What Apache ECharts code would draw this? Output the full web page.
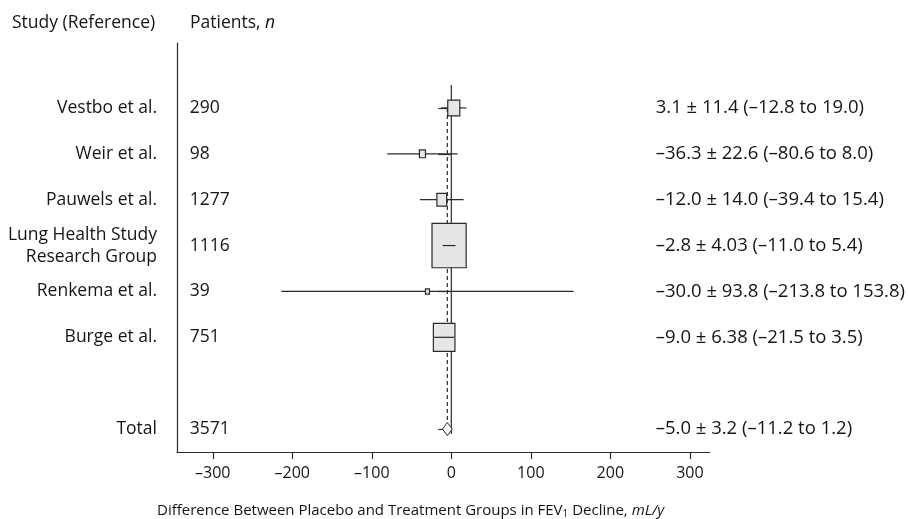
<!DOCTYPE html>
<html><head><meta charset="utf-8">
<script src="https://cdn.jsdelivr.net/npm/echarts@6/dist/echarts.min.js"></script>
<style>html,body{margin:0;padding:0;background:#fff}#c{width:908px;height:519px}</style>
</head><body><div id="c"></div>
<script>
const studies = ['Vestbo et al.', 'Weir et al.', 'Pauwels et al.', 'Lung Health Study\nResearch Group', 'Renkema et al.', 'Burge et al.'];
const patients = [290, 98, 1277, 1116, 39, 751];
const means = [3.1, -36.3, -12.0, -2.8, -30.0, -9.0];
const ses = [11.4, 22.6, 14.0, 4.03, 93.8, 6.38];
const seDecimals = [1, 1, 1, 2, 1, 2];
const ciLow = [-12.8, -80.6, -39.4, -11.0, -213.8, -21.5];
const ciHigh = [19.0, 8.0, 15.4, 5.4, 153.8, 3.5];
const totalLabel = 'Total';
const totalPatients = 3571;
const totalMean = -5.0;
const totalSe = 3.2;
const totalSeDecimals = 1;
const totalLow = -11.2;
const totalHigh = 1.2;
const xTicks = [-300, -200, -100, 0, 100, 200, 300];

const FONT = '"Open Sans", "Noto Sans", sans-serif';
const TXT = '#151515';
const LINE = '#2a2a2a';

function fmt(v) { return (v < 0 ? '\u2013' : '') + Math.abs(v).toFixed(1); }
function summary(m, se, d, lo, hi) { return fmt(m) + ' \u00b1 ' + se.toFixed(d) + ' (' + fmt(lo) + ' to ' + fmt(hi) + ')'; }

const categories = studies.concat(['', totalLabel]);
const nLabels = patients.map(String).concat(['', String(totalPatients)]);
const sumLabels = studies.map((s, i) => summary(means[i], ses[i], seDecimals[i], ciLow[i], ciHigh[i]))
  .concat(['', summary(totalMean, totalSe, totalSeDecimals, totalLow, totalHigh)]);
const totalRow = categories.length - 1;

const markData = studies.map((s, i) => [means[i], i, ciLow[i], ciHigh[i], ses[i], 0])
  .concat([[totalMean, totalRow, totalLow, totalHigh, totalSe, 1]]);

const chart = echarts.init(document.getElementById('c'), null, {renderer: 'canvas'});
const baseText = {fontFamily: FONT, fontSize: 17.5, color: TXT};
const capText = {fontFamily: FONT, fontSize: 15, color: TXT};

chart.setOption({
  animation: false,
  backgroundColor: '#fff',
  textStyle: {fontFamily: FONT},
  title: [
    {text: 'Study (Reference)', left: 12, top: 14, padding: 0, textStyle: Object.assign({fontWeight: 'normal'}, baseText)},
    {text: 'Patients, {i|n}', left: 190, top: 14, padding: 0,
      textStyle: Object.assign({fontWeight: 'normal', rich: {i: Object.assign({fontStyle: 'italic'}, baseText)}}, baseText)},
    {text: 'Difference Between Placebo and Treatment Groups in FEV{sub|1} Decline, {i|mL/y}', left: 157, top: 502, padding: 0,
      textStyle: Object.assign({fontWeight: 'normal', rich: {
        sub: {fontFamily: FONT, fontSize: 10, color: TXT, padding: [7, 0, 0, 0]},
        i: Object.assign({fontStyle: 'italic'}, capText)
      }}, capText)}
  ],
  grid: [
    {left: 177, right: 196, top: 85, bottom: 67, containLabel: false},
    {left: 177, right: 196, top: 43, bottom: 67, containLabel: false}
  ],
  xAxis: [
    {gridIndex: 0, type: 'value', min: -345, max: 325,
      axisLine: {show: true, onZero: false, lineStyle: {color: LINE, width: 1.2}},
      axisTick: {show: true, customValues: xTicks, length: 7, lineStyle: {color: LINE, width: 1.2}},
      axisLabel: {customValues: xTicks, margin: 13, fontSize: 16, color: TXT, fontFamily: FONT, formatter: v => (v < 0 ? '\u2013' + Math.abs(v) : String(v))},
      splitLine: {show: false}},
    {gridIndex: 1, type: 'value', show: false, min: 0, max: 1}
  ],
  yAxis: [
    {gridIndex: 0, type: 'category', data: categories, inverse: true, position: 'left',
      axisLine: {show: false},
      axisTick: {show: true, alignWithLabel: true, length: 13, interval: (i, v) => v !== '', lineStyle: {color: LINE, width: 1.2}},
      axisLabel: {margin: 20, fontSize: 17.5, color: TXT, fontFamily: FONT, lineHeight: 22, align: 'right', interval: 0},
      splitLine: {show: false}},
    {gridIndex: 0, type: 'category', data: nLabels, inverse: true, position: 'right', offset: -520,
      axisLine: {show: false}, axisTick: {show: false},
      axisLabel: {margin: 0, fontSize: 17.5, color: TXT, fontFamily: FONT, align: 'left', interval: 0},
      splitLine: {show: false}},
    {gridIndex: 0, type: 'category', data: sumLabels, inverse: true, position: 'right', offset: -54,
      axisLine: {show: false}, axisTick: {show: false},
      axisLabel: {margin: 0, fontSize: 18.5, color: TXT, fontFamily: FONT, align: 'left', interval: 0},
      splitLine: {show: false}},
    {gridIndex: 1, type: 'value', min: 0, max: 1, position: 'left',
      axisLine: {show: true, lineStyle: {color: LINE, width: 1.2}},
      axisTick: {show: false}, axisLabel: {show: false}, splitLine: {show: false}}
  ],
  series: [
    {type: 'custom', name: 'reference', xAxisIndex: 0, yAxisIndex: 0, z: 1, silent: true,
      data: [[totalMean, totalRow]],
      encode: {x: 0, y: 1},
      renderItem: function (params, api) {
        const band = api.size([0, 1])[1];
        const firstY = api.coord([0, 0])[1];
        const top = firstY - band / 2;
        const zeroX = api.coord([0, 0])[0];
        const ty = api.coord([0, api.value(1)])[1];
        const dx = api.coord([api.value(0), 0])[0];
        return {type: 'group', children: [
          {type: 'line', shape: {x1: zeroX, y1: top, x2: zeroX, y2: ty + 5}, style: {stroke: LINE, lineWidth: 1.2}},
          {type: 'line', shape: {x1: dx, y1: firstY, x2: dx, y2: ty}, style: {stroke: LINE, lineWidth: 1.2, lineDash: [4, 3]}}
        ]};
      }},
    {type: 'custom', name: 'studies', xAxisIndex: 0, yAxisIndex: 0, z: 3, silent: true,
      data: markData,
      encode: {x: [0, 2, 3], y: 1},
      renderItem: function (params, api) {
        const m = api.value(0), r = api.value(1), lo = api.value(2), hi = api.value(3), se = api.value(4), tot = api.value(5);
        const band = api.size([0, 1])[1];
        const p = api.coord([m, r]);
        const xm = p[0], y = p[1];
        const xl = api.coord([lo, r])[0];
        const xh = api.coord([hi, r])[0];
        if (tot) {
          const h = 13;
          return {type: 'polygon', shape: {points: [[xl, y], [xm, y - h / 2], [xh, y], [xm, y + h / 2]]},
            style: {fill: '#fff', stroke: LINE, lineWidth: 1}};
        }
        const w = Math.max(4, 3 * band / se);
        const h = Math.max(5, w * 1.3);
        const line = {type: 'line', shape: {x1: xl, y1: y, x2: xh, y2: y}, style: {stroke: LINE, lineWidth: 1.2}};
        const rect = {type: 'rect', shape: {x: xm - w / 2, y: y - h / 2, width: w, height: h},
          style: {fill: '#e6e6e6', stroke: LINE, lineWidth: 1.2}};
        const onTop = w >= 0.8 * (xh - xl);
        return {type: 'group', children: onTop ? [rect, line] : [line, rect]};
      }}
  ]
});
</script>
</body></html>
